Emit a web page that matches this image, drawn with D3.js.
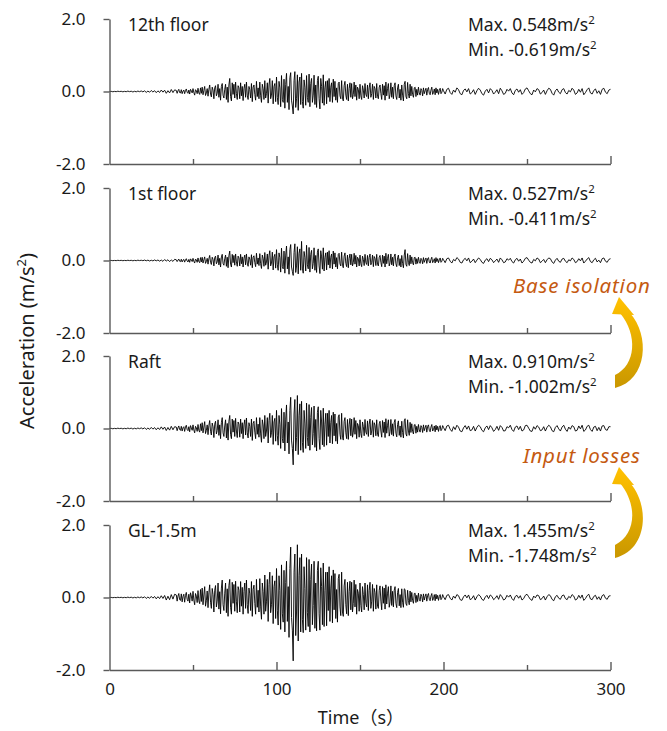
<!DOCTYPE html>
<html>
<head>
<meta charset="utf-8">
<script src="https://cdn.jsdelivr.net/npm/d3@7"></script>
<style>
  body { margin: 0; background: #fff; }
  svg { display: block; font-family: "Noto Sans", "Open Sans", sans-serif; }
</style>
</head>
<body>
<script>
/* DATA
   acceleration records:
   every 1 s for 0-39 s, every 0.5 s for 40-199.5 s (strong motion), every 1 s for 200-300 s */
const times = [
  ...d3.range(0, 40, 1),
  ...d3.range(40, 200, 0.5),
  ...d3.range(200, 301, 1),
];

const floor12 = [
  // 0 - 39 s
  0,0.004,-0.007,0.003,-0.005,0.008,-0.002,0.006,-0.009,0.004,
  -0.006,0.011,-0.004,0.008,-0.013,0.006,-0.009,0.012,-0.005,0.015,
  -0.01,0.018,-0.025,0.012,-0.02,0.028,-0.015,0.022,-0.032,0.018,
  -0.026,0.04,-0.018,0.035,-0.05,0.022,-0.038,0.055,-0.03,0.045,
  // 40 - 199.5 s
  0.03,-0.05,0.02,0.06,-0.03,-0.04,0.05,-0.06,0.01,0.04,
  -0.06,0.03,0.07,-0.02,-0.05,0.04,-0.07,0.06,0.02,-0.04,
  0.08,-0.03,-0.1,0.05,0.02,-0.06,0.09,-0.04,-0.08,0.1,
  -0.05,0.12,-0.09,0.03,0.14,-0.11,-0.04,0.08,-0.13,0.06,
  0.18,-0.07,-0.15,0.12,0.04,-0.2,0.1,0.16,-0.12,-0.05,
  0.2,-0.16,0.08,-0.24,0.14,0.22,-0.1,-0.18,0.06,0.2,
  -0.22,0.12,-0.3,0.18,0.36,-0.14,-0.26,0.24,-0.08,0.2,
  -0.18,0.26,-0.06,-0.22,0.16,0.1,-0.2,0.24,-0.12,0.14,
  -0.25,0.08,0.2,-0.16,0.26,-0.1,-0.22,0.14,0.05,-0.18,
  0.22,-0.28,0.12,0.18,-0.08,-0.24,0.28,-0.14,0.1,-0.2,
  0.26,-0.12,-0.3,0.2,0.08,-0.22,0.3,-0.18,-0.06,0.24,
  -0.32,0.18,0.36,-0.2,-0.1,0.3,-0.34,0.14,0.22,-0.28,
  0.4,-0.16,-0.36,0.28,0.1,-0.42,0.44,-0.22,-0.3,0.34,
  -0.46,0.2,0.5,-0.3,0.14,-0.5,0.38,0.52,-0.24,-0.4,
  -0.619,0.3,0.548,-0.44,-0.2,0.46,-0.52,0.26,0.4,-0.36,
  0.5,-0.28,-0.46,0.32,0.12,-0.38,0.44,-0.16,-0.3,0.48,
  -0.42,0.22,0.36,-0.3,-0.1,0.45,-0.36,0.18,-0.44,0.3,
  0.42,-0.2,-0.48,0.36,0.14,-0.32,0.46,-0.38,0.1,0.28,
  -0.34,0.3,-0.16,0.36,-0.28,0.12,0.24,-0.3,0.34,-0.14,
  0.28,-0.24,0.1,-0.3,0.22,0.26,-0.12,-0.2,0.3,-0.18,
  -0.26,0.16,0.28,-0.1,-0.22,0.2,-0.26,0.08,0.24,-0.16,
  0.22,-0.2,-0.08,0.26,-0.14,0.18,-0.24,0.12,0.06,-0.2,
  0.2,-0.12,-0.22,0.16,0.04,-0.18,0.22,-0.08,-0.14,0.18,
  -0.2,0.1,0.24,-0.16,-0.06,0.2,-0.22,0.14,0.08,-0.18,
  0.22,-0.14,-0.2,0.12,0.18,-0.06,-0.22,0.2,-0.1,0.16,
  -0.24,0.26,-0.12,0.08,0.22,-0.2,-0.08,0.24,-0.16,0.12,
  -0.2,0.16,0.24,-0.12,-0.22,0.1,0.2,-0.18,0.06,-0.24,
  0.18,-0.1,-0.26,0.2,0.28,-0.14,-0.2,0.25,-0.06,-0.18,
  0.2,-0.12,0.14,-0.08,-0.16,0.1,0.12,-0.14,0.06,-0.1,
  0.12,-0.04,-0.1,0.08,0.03,-0.12,0.1,-0.06,0.02,0.09,
  -0.1,0.06,0.11,-0.05,-0.09,0.04,0.12,-0.08,-0.03,0.07,
  -0.09,0.1,-0.04,0.06,-0.08,0.03,0.09,-0.06,-0.02,0.08,
  // 200 - 300 s
  0.02,-0.07,0.06,0.09,-0.03,-0.08,0.04,-0.02,0.1,0.05,
  -0.06,-0.09,0.03,0.07,-0.01,0.08,-0.07,-0.03,0.05,-0.08,
  0.02,0.09,0.04,-0.06,-0.1,0.01,0.06,-0.04,0.08,0.03,
  -0.07,-0.02,0.05,-0.06,0.09,0.02,-0.08,-0.05,0.06,0.01,
  0.08,-0.04,-0.09,0.03,0.07,-0.02,0.05,-0.08,-0.03,0.07,
  0.1,0.02,-0.06,-0.09,0.04,-0.01,0.08,0.05,-0.07,-0.03,
  0.04,-0.08,0.02,0.09,0.06,-0.05,-0.1,0.02,0.07,-0.02,
  -0.06,0.05,0.08,-0.03,-0.07,0.03,-0.01,0.09,0.04,-0.08,
  -0.04,0.06,-0.02,0.08,-0.09,-0.03,0.05,0.1,-0.04,-0.07,
  0.03,0.07,-0.05,0.02,-0.08,0.06,0.09,-0.02,-0.06,0.04,
  0.06
];

const floor1 = [
  // 0 - 39 s
  0,0.003,-0.005,0.002,-0.004,0.006,-0.002,0.005,-0.006,0.003,
  -0.004,0.007,-0.003,0.006,-0.008,0.004,-0.006,0.009,-0.003,0.007,
  -0.006,0.012,-0.008,0.01,-0.014,0.007,-0.011,0.015,-0.009,0.013,
  -0.018,0.012,-0.022,0.026,-0.014,0.02,-0.03,0.017,-0.025,0.032,
  // 40 - 199.5 s
  0.02,-0.03,0.01,0.04,-0.02,-0.03,0.035,-0.04,0.01,0.03,
  -0.045,0.02,0.05,-0.015,-0.04,0.03,-0.05,0.045,0.015,-0.03,
  0.06,-0.02,-0.07,0.04,0.015,-0.05,0.07,-0.03,-0.06,0.08,
  -0.04,0.09,-0.07,0.02,0.1,-0.08,-0.03,0.06,-0.1,0.05,
  0.14,-0.05,-0.11,0.09,0.03,-0.15,0.08,0.12,-0.09,-0.04,
  0.15,-0.12,0.06,-0.18,0.1,0.17,-0.08,-0.13,0.05,0.15,
  -0.16,0.09,-0.2,0.13,0.26,-0.1,-0.18,0.17,-0.06,0.14,
  -0.13,0.18,-0.04,-0.16,0.12,0.07,-0.15,0.17,-0.09,0.1,
  -0.18,0.06,0.15,-0.12,0.18,-0.07,-0.16,0.1,0.04,-0.13,
  0.16,-0.2,0.09,0.13,-0.06,-0.17,0.2,-0.1,0.07,-0.14,
  0.19,-0.09,-0.22,0.15,0.06,-0.16,0.22,-0.13,-0.04,0.18,
  -0.24,0.13,0.27,-0.15,-0.07,0.23,-0.26,0.1,0.17,-0.21,
  0.3,-0.12,-0.27,0.21,0.08,-0.32,0.34,-0.17,-0.23,0.26,
  -0.35,0.15,0.4,-0.23,0.1,-0.38,0.3,0.44,-0.18,-0.3,
  -0.411,0.22,0.46,-0.33,-0.15,0.38,-0.37,0.2,0.32,-0.27,
  0.527,-0.21,-0.35,0.25,0.09,-0.29,0.42,-0.12,-0.23,0.36,
  -0.32,0.17,0.28,-0.23,-0.08,0.35,-0.27,0.14,-0.33,0.23,
  0.32,-0.15,-0.36,0.27,0.1,-0.24,0.35,-0.29,0.08,0.21,
  -0.26,0.23,-0.12,0.27,-0.21,0.09,0.18,-0.23,0.26,-0.1,
  0.21,-0.18,0.08,-0.23,0.17,0.2,-0.09,-0.15,0.23,-0.13,
  -0.2,0.12,0.21,-0.08,-0.17,0.15,-0.2,0.06,0.18,-0.12,
  0.17,-0.15,-0.06,0.2,-0.1,0.14,-0.18,0.09,0.05,-0.15,
  0.15,-0.09,-0.17,0.12,0.03,-0.14,0.17,-0.06,-0.11,0.14,
  -0.15,0.08,0.18,-0.12,-0.05,0.15,-0.17,0.11,0.06,-0.14,
  0.17,-0.11,-0.15,0.09,0.14,-0.05,-0.17,0.15,-0.08,0.12,
  -0.18,0.2,-0.09,0.06,0.17,-0.15,-0.06,0.18,-0.12,0.09,
  -0.15,0.12,0.18,-0.09,-0.17,0.08,0.15,-0.14,0.05,-0.18,
  0.14,-0.08,-0.2,0.15,0.3,-0.11,-0.16,0.19,-0.05,-0.14,
  0.15,-0.09,0.1,-0.06,-0.12,0.08,0.09,-0.1,0.05,-0.08,
  0.09,-0.03,-0.08,0.06,0.02,-0.09,0.08,-0.05,0.02,0.07,
  -0.08,0.05,0.08,-0.04,-0.07,0.03,0.09,-0.06,-0.02,0.05,
  -0.07,0.08,-0.03,0.05,-0.06,0.02,0.07,-0.05,-0.02,0.06,
  // 200 - 300 s
  0.02,-0.06,0.05,0.07,-0.02,-0.07,0.03,-0.01,0.08,0.04,
  -0.05,-0.07,0.02,0.06,-0.01,0.07,-0.06,-0.02,0.04,-0.06,
  0.01,0.07,0.03,-0.05,-0.08,0.01,0.05,-0.03,0.06,0.02,
  -0.06,-0.01,0.04,-0.05,0.07,0.02,-0.06,-0.04,0.05,0.01,
  0.06,-0.03,-0.07,0.02,0.06,-0.02,0.04,-0.07,-0.02,0.06,
  0.08,0.01,-0.05,-0.07,0.03,-0.01,0.07,0.04,-0.06,-0.02,
  0.03,-0.06,0.02,0.07,0.05,-0.04,-0.08,0.01,0.06,-0.02,
  -0.05,0.04,0.06,-0.02,-0.06,0.02,-0.01,0.07,0.03,-0.06,
  -0.03,0.05,-0.01,0.07,-0.07,-0.02,0.04,0.08,-0.03,-0.06,
  0.02,0.06,-0.04,0.01,-0.06,0.05,0.07,-0.02,-0.05,0.03,
  0.05
];

const raft = [
  // 0 - 39 s
  0,0.005,-0.008,0.004,-0.006,0.009,-0.003,0.007,-0.01,0.005,
  -0.007,0.012,-0.005,0.01,-0.014,0.007,-0.01,0.013,-0.006,0.016,
  -0.012,0.02,-0.026,0.014,-0.022,0.03,-0.017,0.025,-0.034,0.02,
  -0.028,0.045,-0.022,0.04,-0.055,0.028,-0.045,0.06,-0.035,0.05,
  // 40 - 199.5 s
  0.04,-0.06,0.02,0.07,-0.03,-0.05,0.06,-0.07,0.02,0.05,
  -0.08,0.04,0.09,-0.03,-0.06,0.05,-0.09,0.08,0.02,-0.05,
  0.1,-0.04,-0.12,0.06,0.02,-0.08,0.11,-0.05,-0.1,0.13,
  -0.06,0.16,-0.12,0.04,0.19,-0.14,-0.05,0.1,-0.17,0.08,
  0.22,-0.08,-0.18,0.15,0.05,-0.25,0.12,0.2,-0.15,-0.06,
  0.24,-0.19,0.1,-0.28,0.16,0.3,-0.12,-0.22,0.07,0.24,
  -0.26,0.14,-0.32,0.2,0.36,-0.16,-0.28,0.26,-0.1,0.22,
  -0.22,0.28,-0.07,-0.25,0.18,0.12,-0.24,0.26,-0.14,0.16,
  -0.28,0.1,0.24,-0.18,0.29,-0.12,-0.26,0.16,0.06,-0.22,
  0.26,-0.33,0.14,0.2,-0.1,-0.28,0.3,-0.16,0.12,-0.24,
  0.3,-0.15,-0.38,0.24,0.1,-0.28,0.36,-0.22,-0.07,0.3,
  -0.4,0.22,0.42,-0.25,-0.12,0.36,-0.44,0.18,0.28,-0.35,
  0.5,-0.2,-0.46,0.36,0.12,-0.55,0.55,-0.28,-0.4,0.45,
  -0.62,0.26,0.65,-0.4,0.18,-0.7,0.5,0.86,-0.32,-0.55,
  -1.002,0.4,0.8,-0.62,-0.25,0.91,-0.72,0.35,0.68,-0.6,
  0.75,-0.38,-0.66,0.5,0.15,-0.55,0.7,-0.25,-0.48,0.66,
  -0.6,0.3,0.58,-0.45,-0.14,0.62,-0.52,0.25,-0.62,0.44,
  0.6,-0.28,-0.58,0.5,0.18,-0.45,0.56,-0.5,0.12,0.42,
  -0.46,0.42,-0.22,0.5,-0.4,0.16,0.36,-0.42,0.45,-0.2,
  0.4,-0.35,0.14,-0.42,0.32,0.38,-0.16,-0.3,0.42,-0.24,
  -0.32,0.2,0.3,-0.12,-0.28,0.25,-0.3,0.1,0.28,-0.2,
  0.26,-0.24,-0.1,0.3,-0.16,0.22,-0.28,0.14,0.08,-0.24,
  0.24,-0.14,-0.25,0.18,0.05,-0.2,0.25,-0.1,-0.16,0.21,
  -0.22,0.12,0.26,-0.18,-0.07,0.22,-0.24,0.16,0.09,-0.2,
  0.24,-0.16,-0.22,0.13,0.2,-0.07,-0.24,0.22,-0.11,0.18,
  -0.25,0.27,-0.13,0.09,0.24,-0.21,-0.09,0.25,-0.17,0.13,
  -0.21,0.17,0.25,-0.13,-0.23,0.11,0.21,-0.19,0.07,-0.24,
  0.2,-0.11,-0.26,0.21,0.27,-0.15,-0.21,0.24,-0.07,-0.19,
  0.17,-0.11,0.13,-0.08,-0.15,0.1,0.11,-0.13,0.06,-0.1,
  0.11,-0.04,-0.1,0.08,0.03,-0.11,0.1,-0.06,0.02,0.09,
  -0.1,0.06,0.1,-0.05,-0.09,0.04,0.11,-0.07,-0.03,0.07,
  -0.09,0.09,-0.04,0.06,-0.08,0.03,0.08,-0.06,-0.02,0.08,
  // 200 - 300 s
  0.03,-0.06,0.07,0.09,-0.02,-0.08,0.05,-0.03,0.09,0.04,
  -0.07,-0.09,0.02,0.08,-0.02,0.07,-0.06,-0.04,0.06,-0.07,
  0.03,0.09,0.05,-0.05,-0.09,0.02,0.07,-0.03,0.08,0.02,
  -0.08,-0.03,0.06,-0.05,0.08,0.03,-0.07,-0.06,0.05,0.02,
  0.09,-0.03,-0.08,0.04,0.07,-0.03,0.06,-0.07,-0.04,0.08,
  0.09,0.01,-0.07,-0.08,0.05,-0.02,0.08,0.04,-0.06,-0.04,
  0.05,-0.07,0.03,0.09,0.05,-0.06,-0.09,0.03,0.08,-0.01,
  -0.07,0.04,0.09,-0.02,-0.08,0.04,-0.02,0.08,0.05,-0.07,
  -0.05,0.07,-0.01,0.09,-0.08,-0.04,0.06,0.09,-0.03,-0.08,
  0.04,0.06,-0.06,0.03,-0.07,0.07,0.08,-0.03,-0.05,0.05,
  0.05
];

const gl15 = [
  // 0 - 39 s
  0,0.003,-0.006,0.002,-0.005,0.007,-0.003,0.006,-0.008,0.004,
  -0.006,0.01,-0.004,0.009,-0.012,0.006,-0.01,0.013,-0.007,0.015,
  -0.011,0.02,-0.026,0.015,-0.022,0.03,-0.018,0.028,-0.036,0.022,
  -0.03,0.048,-0.026,0.055,-0.07,0.035,-0.06,0.08,-0.045,0.09,
  // 40 - 199.5 s
  0.07,-0.1,0.04,0.11,-0.06,-0.08,0.1,-0.12,0.03,0.09,
  -0.13,0.06,0.14,-0.05,-0.1,0.09,-0.15,0.13,0.04,-0.1,
  0.17,-0.07,-0.2,0.11,0.04,-0.14,0.19,-0.09,-0.17,0.22,
  -0.11,0.26,-0.2,0.07,0.3,-0.24,-0.09,0.18,-0.28,0.13,
  0.35,-0.13,-0.3,0.25,0.08,-0.4,0.2,0.33,-0.26,-0.1,
  0.4,-0.32,0.16,-0.45,0.26,0.48,-0.2,-0.36,0.12,0.4,
  -0.42,0.24,-0.52,0.33,0.5,-0.27,-0.46,0.42,-0.16,0.36,
  -0.38,0.45,-0.12,-0.42,0.3,0.2,-0.4,0.44,-0.24,0.28,
  -0.46,0.17,0.4,-0.3,0.48,-0.2,-0.44,0.26,0.1,-0.36,
  0.44,-0.52,0.22,0.34,-0.16,-0.46,0.5,-0.27,0.2,-0.4,
  0.52,-0.26,-0.6,0.4,0.16,-0.46,0.62,-0.38,-0.12,0.5,
  -0.66,0.36,0.7,-0.42,-0.2,0.6,-0.72,0.3,0.46,-0.58,
  0.8,-0.35,-0.76,0.6,0.2,-0.88,0.9,-0.45,-0.68,0.75,
  -0.95,0.42,1.0,-0.66,0.3,-1.1,0.8,1.39,-0.55,-0.9,
  -1.748,0.7,1.2,-1.05,-0.4,1.455,-1.2,0.6,1.1,-0.95,
  1.2,-0.6,-0.97,0.85,0.25,-0.9,1.1,-0.42,-0.8,1.05,
  -0.95,0.5,0.92,-0.75,-0.22,1.0,-0.85,0.4,-0.92,0.75,
  1.0,-0.45,-0.9,0.82,0.3,-0.75,0.95,-0.8,0.2,0.7,
  -0.78,0.7,-0.36,0.85,-0.66,0.26,0.6,-0.7,0.76,-0.34,
  0.66,-0.58,0.22,-0.68,0.52,0.64,-0.26,-0.5,0.7,-0.4,
  -0.52,0.32,0.5,-0.2,-0.45,0.42,-0.5,0.16,0.45,-0.34,
  0.42,-0.4,-0.16,0.48,-0.26,0.36,-0.46,0.22,0.12,-0.38,
  0.4,-0.22,-0.4,0.3,0.08,-0.34,0.4,-0.16,-0.26,0.35,
  -0.36,0.2,0.42,-0.3,-0.1,0.36,-0.38,0.25,0.14,-0.32,
  0.35,-0.24,-0.3,0.2,0.32,-0.1,-0.34,0.3,-0.16,0.26,
  -0.32,0.35,-0.18,0.12,0.3,-0.27,-0.12,0.32,-0.22,0.17,
  -0.26,0.2,0.3,-0.16,-0.28,0.14,0.25,-0.23,0.08,-0.28,
  0.24,-0.13,-0.27,0.24,0.22,-0.17,-0.22,0.2,-0.08,-0.2,
  0.18,-0.12,0.14,-0.08,-0.16,0.11,0.12,-0.14,0.06,-0.11,
  0.12,-0.05,-0.1,0.09,0.03,-0.12,0.1,-0.07,0.03,0.1,
  -0.1,0.06,0.11,-0.05,-0.09,0.04,0.11,-0.08,-0.03,0.08,
  -0.09,0.09,-0.04,0.06,-0.08,0.03,0.08,-0.06,-0.02,0.08,
  // 200 - 300 s
  0.02,-0.06,0.06,0.08,-0.02,-0.07,0.04,-0.02,0.08,0.05,
  -0.06,-0.08,0.02,0.07,-0.01,0.07,-0.06,-0.03,0.05,-0.07,
  0.02,0.08,0.04,-0.05,-0.08,0.01,0.06,-0.03,0.07,0.03,
  -0.06,-0.02,0.05,-0.05,0.08,0.02,-0.07,-0.04,0.06,0.01,
  0.07,-0.03,-0.08,0.03,0.06,-0.02,0.05,-0.07,-0.03,0.06,
  0.09,0.02,-0.05,-0.08,0.04,-0.01,0.07,0.05,-0.06,-0.03,
  0.04,-0.07,0.02,0.08,0.05,-0.05,-0.09,0.02,0.06,-0.02,
  -0.05,0.05,0.07,-0.03,-0.06,0.03,-0.01,0.08,0.04,-0.07,
  -0.04,0.06,-0.02,0.07,-0.08,-0.03,0.05,0.09,-0.04,-0.06,
  0.03,0.06,-0.05,0.02,-0.07,0.05,0.08,-0.02,-0.05,0.04,
  0.05
];

const panelNames = ['12th floor', '1st floor', 'Raft', 'GL-1.5m'];
const panelSeries = [floor12, floor1, raft, gl15];
const maxLabels = ['0.548', '0.527', '0.910', '1.455'];
const minLabels = ['-0.619', '-0.411', '-1.002', '-1.748'];
const yTicks = [-2, 0, 2];
const xTicks = [0, 50, 100, 150, 200, 250, 300];
const notes = ['Base isolation', 'Input losses'];

/* LAYOUT */
const width = 667;
const height = 731;
const panelTop = [19, 188, 356, 525];
const panelHeight = 145;
const axisColor = '#595959';
const textColor = '#1a1a1a';

const svg = d3
  .select('body')
  .append('svg')
  .attr('width', width)
  .attr('height', height);

const xScale = d3.scaleLinear().domain([0, 300]).range([109.5, 610.5]);

const lineGenerator = d3.line();

panelSeries.forEach((series, i) => {
  const top = panelTop[i];
  const yScale = d3
    .scaleLinear()
    .domain([-2, 2])
    .range([top + panelHeight, top]);
  const last = i === panelSeries.length - 1;

  const group = svg.append('g');

  // trace
  lineGenerator.x((d, k) => xScale(times[k])).y(d => yScale(d));
  group
    .append('path')
    .attr('d', lineGenerator(series))
    .attr('fill', 'none')
    .attr('stroke', '#000')
    .attr('stroke-width', 0.9)
    .attr('stroke-linejoin', 'round');

  // y axis
  const yAxis = d3
    .axisLeft(yScale)
    .tickValues(yTicks)
    .tickSizeInner(6)
    .tickSizeOuter(0)
    .tickPadding(18)
    .tickFormat(d => d.toFixed(1));

  const yg = group
    .append('g')
    .attr('transform', `translate(${xScale(0)} 0)`)
    .call(yAxis);

  // x axis at the bottom of each panel, ticks pointing up
  const xAxis = d3
    .axisBottom(xScale)
    .tickValues(xTicks)
    .tickSizeInner(-8)
    .tickSizeOuter(0)
    .tickPadding(13)
    .tickFormat(d => (last && d % 100 === 0 ? d : ''));

  const xg = group
    .append('g')
    .attr('transform', `translate(0 ${yScale(-2)})`)
    .call(xAxis);

  xg.selectAll('g.tick')
    .filter(d => d === 0)
    .select('line')
    .remove();
  xg.selectAll('g.tick line').attr('y2', d => (d % 100 === 0 ? -8 : -5));

  [yg, xg].forEach(g => {
    g.select('path.domain').attr('stroke', axisColor).attr('stroke-width', 1.4);
    g.selectAll('line').attr('stroke', axisColor).attr('stroke-width', 1.4);
    g.selectAll('text')
      .attr('fill', textColor)
      .attr('font-size', 17)
      .attr('font-family', '"Noto Sans", sans-serif');
  });

  // labels
  group
    .append('text')
    .attr('x', 128)
    .attr('y', top + 12)
    .attr('fill', textColor)
    .attr('font-size', 17.5)
    .text(panelNames[i]);

  const maxText = group
    .append('text')
    .attr('x', 468)
    .attr('y', top + 12)
    .attr('fill', textColor)
    .attr('font-size', 17.5);
  maxText.append('tspan').text(`Max. ${maxLabels[i]}m/s`);
  maxText.append('tspan').attr('font-size', 11.5).attr('dy', -7).text('2');

  const minText = group
    .append('text')
    .attr('x', 468)
    .attr('y', top + 37)
    .attr('fill', textColor)
    .attr('font-size', 17.5);
  minText.append('tspan').text(`Min. ${minLabels[i]}m/s`);
  minText.append('tspan').attr('font-size', 11.5).attr('dy', -7).text('2');
});

// axis titles
const yTitle = svg
  .append('text')
  .attr('transform', 'translate(34 341) rotate(-90)')
  .attr('text-anchor', 'middle')
  .attr('fill', textColor)
  .attr('font-size', 20);
yTitle.append('tspan').text('Acceleration (m/s');
yTitle.append('tspan').attr('font-size', 13).attr('dy', -8).text('2');
yTitle.append('tspan').attr('dy', 8).text(')');

svg
  .append('text')
  .attr('x', 361)
  .attr('y', 724)
  .attr('text-anchor', 'middle')
  .attr('fill', textColor)
  .attr('font-size', 18)
  .text('Time（s）')
  .style('font-family', '"Noto Sans", "Noto Sans CJK JP", sans-serif');

// annotations with curved arrows
const defs = svg.append('defs');
const grad = defs
  .append('linearGradient')
  .attr('id', 'arrowFill')
  .attr('gradientUnits', 'userSpaceOnUse')
  .attr('x1', 0)
  .attr('y1', 300)
  .attr('x2', 0)
  .attr('y2', 388);
grad.append('stop').attr('offset', 0).attr('stop-color', '#ffc000');
grad.append('stop').attr('offset', 1).attr('stop-color', '#c99700');

notes.forEach((note, i) => {
  const shift = i * 170;
  svg
    .append('text')
    .attr('x', i === 0 ? 513 : 523)
    .attr('y', 293 + shift)
    .attr('fill', '#c55a11')
    .attr('font-size', 20.5)
    .attr('letter-spacing', 0.8)
    .attr('font-style', 'italic')
    .text(note);

  const arrow = svg.append('g').attr('transform', `translate(0 ${shift})`);
  arrow
    .append('path')
    .attr('d', 'M615 388 L615 375 C636 365 638 335 620 313 L630 313 C650 335 648 380 615 388 Z')
    .attr('fill', 'url(#arrowFill)');
  arrow
    .append('path')
    .attr('d', 'M619 297 L634 315 L612 314 Z')
    .attr('fill', 'url(#arrowFill)');
});
</script>
</body>
</html>
